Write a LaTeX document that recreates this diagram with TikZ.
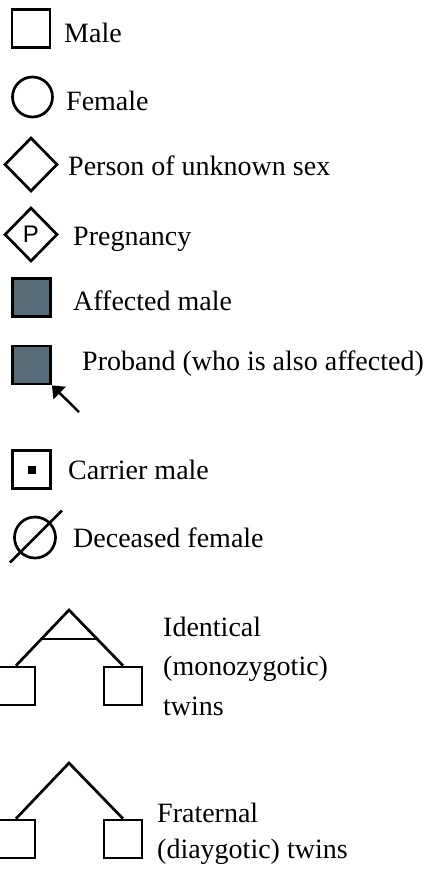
\documentclass[tikz,border=0pt]{standalone}
\usepackage{fontspec}
\setmainfont{Liberation Serif}
\newfontfamily\psans{Liberation Sans}
\usetikzlibrary{shapes.geometric,arrows.meta,calc}
\definecolor{affcol}{HTML}{566B78}
\begin{document}
\begin{tikzpicture}[x=1pt,y=-1pt,
  sym/.style={draw=black,line width=2.7pt,inner sep=0pt},
  malebox/.style={sym,rectangle,minimum size=38pt},
  femcirc/.style={sym,circle,minimum size=40pt},
  unkdia/.style={sym,diamond,aspect=1,minimum width=53pt,minimum height=54pt},
  lbl/.style={anchor=base west,inner sep=0pt,font=\fontsize{28}{34}\selectfont},
  link/.style={line width=2.7pt}]
\useasboundingbox (0,0) rectangle (428,871);
% Male
\node[malebox] (male) at (31,28.5) {};
\node[lbl] (tmale) at (64,42) {Male};
% Female
\node[femcirc] (fem) at (32.5,97) {};
\node[lbl] (tfem) at (66,110) {Female};
% Unknown sex
\node[unkdia] (unk) at (31,164.5) {};
\node[lbl] (tunk) at (68,175) {Person of unknown sex};
% Pregnancy
\node[unkdia,font=\psans\fontsize{24}{24}\selectfont] (preg) at (31,234.5) {P};
\node[lbl] (tpreg) at (73,245) {Pregnancy};
% Affected male
\node[malebox,fill=affcol] (aff) at (31.5,297.5) {};
\node[lbl] (taff) at (73,310) {Affected male};
% Proband
\node[malebox,fill=affcol] (prob) at (31.5,365) {};
\coordinate (parr) at (79,412);
\draw[line width=2.5pt,-{Triangle[length=11pt,width=17pt]}] (parr) -- (prob.south east);
\node[lbl] (tprob) at (82,370) {Proband (who is also affected)};
% Carrier male
\node[malebox] (car) at (31.5,469.5) {};
\node[fill=black,inner sep=0pt,minimum size=8pt] (cardot) at (car.center) {};
\node[lbl] (tcar) at (68,479) {Carrier male};
% Deceased female
\node[femcirc,minimum size=41pt] (dec) at (35,537.5) {};
\draw[line width=2.5pt] ($(dec.center)+(-25,25)$) -- ($(dec.center)+(27,-27)$);
\node[lbl] (tdec) at (73,547) {Deceased female};
% Identical twins
\node[malebox] (itl) at (16,686) {};
\node[malebox] (itr) at (123,686) {};
\coordinate (ita) at (69,610);
\draw[link,line join=miter] (itl.north) -- (ita) -- (itr.north);
\draw[link] ($(ita)!0.52!(itl.north)$) -- ($(ita)!0.52!(itr.north)$);
\node[lbl] (tid1) at (163,636) {Identical};
\node[lbl] (tid2) at (163,675) {(monozygotic)};
\node[lbl] (tid3) at (163,715) {twins};
% Fraternal twins
\node[malebox] (ftl) at (16,839) {};
\node[malebox] (ftr) at (123,839) {};
\coordinate (fta) at (69,763);
\draw[link,line join=miter] (ftl.north) -- (fta) -- (ftr.north);
\node[lbl] (tfr1) at (157,822) {Fraternal};
\node[lbl] (tfr2) at (157,858) {(diaygotic) twins};
\end{tikzpicture}
\end{document}
